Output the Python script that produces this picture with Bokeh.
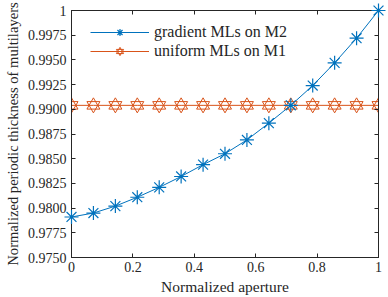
from bokeh.plotting import figure
from bokeh.models import LinearAxis, FixedTicker, Legend, LegendItem, Range1d
from bokeh.embed import file_html
from bokeh.resources import INLINE

# ---- data ----
aperture = [0.0, 0.0714, 0.1429, 0.2143, 0.2857, 0.3571, 0.4286, 0.5,
            0.5714, 0.6429, 0.7143, 0.7857, 0.8571, 0.9286, 1.0]
gradient_M2 = [0.9791, 0.9795, 0.9802, 0.9811, 0.9821, 0.9832, 0.9844, 0.9855,
               0.9869, 0.9886, 0.9904, 0.9924, 0.9947, 0.9972, 1.0]
uniform_M1 = [0.9904] * 15
y_ticks = [0.975, 0.9775, 0.98, 0.9825, 0.985, 0.9875, 0.99, 0.9925, 0.995, 0.9975, 1.0]
y_tick_labels = ["0.9750", "0.9775", "0.9800", "0.9825", "0.9850", "0.9875",
                 "0.9900", "0.9925", "0.9950", "0.9975", "1"]
x_ticks = [0, 0.2, 0.4, 0.6, 0.8, 1.0]
x_tick_labels = ["0", "0.2", "0.4", "0.6", "0.8", "1"]

BLUE = "#0072BD"
ORANGE = "#D95319"
AX = "#262626"
FONT = "Liberation Serif"

p = figure(width=388, height=297, output_backend="svg", toolbar_location=None,
           x_range=Range1d(0, 1), y_range=Range1d(0.975, 1.0),
           min_border_left=71, min_border_right=10, min_border_top=10, min_border_bottom=39)
p.xgrid.visible = False
p.ygrid.visible = False
p.outline_line_color = AX
p.background_fill_color = "white"
p.border_fill_color = "white"

def style_axis(ax, ticks, labels, show):
    ax.ticker = FixedTicker(ticks=ticks)
    ax.major_tick_in = 4
    ax.major_tick_out = 0
    ax.minor_tick_line_color = None
    ax.axis_line_color = AX
    ax.major_tick_line_color = AX
    ax.major_label_text_font = FONT
    ax.major_label_text_color = AX
    ax.axis_label_text_font = FONT
    ax.axis_label_text_color = AX
    ax.axis_label_text_font_style = "normal"
    if show:
        ax.major_label_overrides = {t: l for t, l in zip(ticks, labels)}
        ax.major_label_text_font_size = "14px"
        ax.axis_label_text_font_size = "15.5px"
    else:
        ax.major_label_overrides = {t: "" for t in ticks}
        ax.major_label_standoff = 0

style_axis(p.xaxis[0], x_ticks, x_tick_labels, True)
style_axis(p.yaxis[0], y_ticks, y_tick_labels, True)
p.xaxis[0].axis_label = "Normalized aperture"
p.yaxis[0].axis_label = "Normalized periodic thickness of multilayers"
p.yaxis[0].axis_label_text_font_size = "14.6px"
p.xaxis[0].major_label_standoff = 4
p.xaxis[0].axis_label_standoff = 3
p.yaxis[0].major_label_standoff = 5
p.yaxis[0].axis_label_standoff = 4

top = LinearAxis()
right = LinearAxis()
style_axis(top, x_ticks, x_tick_labels, False)
style_axis(right, y_ticks, y_tick_labels, False)
p.add_layout(top, "above")
p.add_layout(right, "right")

# gradient series
g_line = p.line(aperture, gradient_M2, line_color=BLUE, line_width=1)
g_mark = p.scatter(aperture, gradient_M2, marker="asterisk", size=14,
                   line_color=BLUE, line_width=1.2, level="overlay")

# uniform series (hexagram drawn as two outlined triangles)
u_line = p.line(aperture, uniform_M1, line_color=ORANGE, line_width=1)
u_t1 = p.scatter(aperture, uniform_M1, marker="triangle", size=13,
                 line_color=ORANGE, fill_color=None, line_width=1)
u_t2 = p.scatter(aperture, uniform_M1, marker="inverted_triangle", size=13,
                 line_color=ORANGE, fill_color=None, line_width=1)

legend = Legend(items=[
    LegendItem(label="gradient MLs on M2", renderers=[g_line, g_mark]),
    LegendItem(label="uniform MLs on M1", renderers=[u_line, u_t1, u_t2]),
], location=(15, 193))
legend.label_text_font = FONT
legend.label_text_font_size = "16px"
legend.label_text_color = AX
legend.glyph_width = 59
legend.glyph_height = 18
legend.label_height = 18
legend.spacing = 1
legend.padding = 4
legend.margin = 0
legend.label_standoff = 5
legend.border_line_alpha = 0
legend.background_fill_alpha = 0
p.add_layout(legend, "center")

open("out.html", "w").write(file_html(p, INLINE))
